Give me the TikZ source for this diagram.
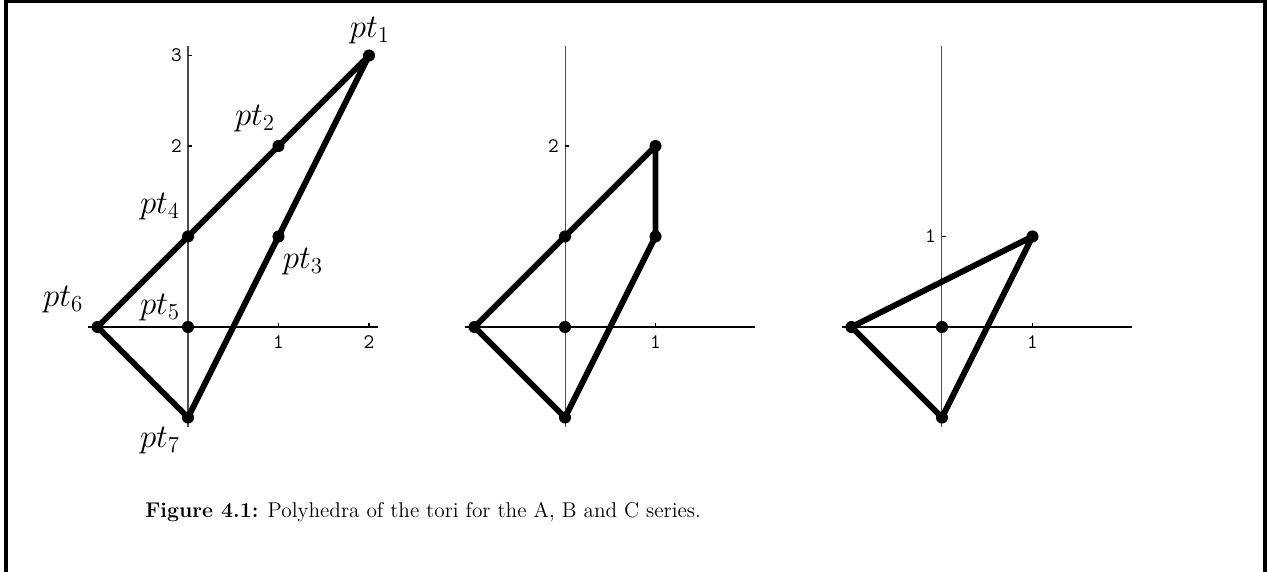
\documentclass[tikz,border=0pt]{standalone}
\usepackage{fontspec}
\begin{document}
\begin{tikzpicture}[x=2cm,y=2cm,
  axisx/.style={line width=0.65pt,black},
  axisy/.style={line width=0.65pt,black!70},
  edge/.style={line width=3.7pt,line join=round,line cap=round},
  dot/.style={circle,fill=black,inner sep=0pt,minimum size=7.6pt},
  ticklab/.style={font=\ttfamily\fontsize{13}{14}\selectfont,inner sep=0pt},
  ptlab/.style={font=\fontsize{20}{22}\selectfont,inner sep=0pt},
  frame/.style={line width=2.2pt}]
\useasboundingbox (-2.0773,-2.6961) rectangle (11.9227,3.6133);
\draw[frame] (-2.011,-2.75) -- (-2.011,3.597) -- (11.90,3.597) -- (11.90,-2.75);

% ---------- panel 1 ----------
\begin{scope}[shift={(0,0)}]
\draw[axisx] (-1.1,0) -- (2.1,0);
\draw[axisy] (0,-1.1) -- (0,3.1);
\foreach \t in {1,2} \draw[axisx] (\t,0) -- (\t,0.045);
\foreach \t in {2,3} \draw[axisx] (0,\t) -- (0.045,\t);
\node[ticklab] (ax1x1) at (1,-0.171) {1};
\node[ticklab] (ax1x2) at (2,-0.171) {2};
\node[ticklab] (ax1y2) at (-0.127,2) {2};
\node[ticklab] (ax1y3) at (-0.127,3) {3};
\node[dot] (p1) at (2,3) {};
\node[dot] (p2) at (1,2) {};
\node[dot] (p3) at (1,1) {};
\node[dot] (p4) at (0,1) {};
\node[dot] (p5) at (0,0) {};
\node[dot] (p6) at (-1,0) {};
\node[dot] (p7) at (0,-1) {};
\draw[edge] (p6.center) -- (p4.center) -- (p2.center) -- (p1.center) -- (p3.center) -- (p7.center) -- cycle;
\node[ptlab] (l1) at (2.01,3.28) {$pt_1$};
\node[ptlab] (l2) at (0.74,2.30) {$pt_2$};
\node[ptlab] (l3) at (1.27,0.72) {$pt_3$};
\node[ptlab] (l4) at (-0.31,1.33) {$pt_4$};
\node[ptlab] (l5) at (-0.31,0.21) {$pt_5$};
\node[ptlab] (l6) at (-1.38,0.30) {$pt_6$};
\node[ptlab] (l7) at (-0.31,-1.25) {$pt_7$};
\end{scope}

% ---------- panel 2 ----------
\begin{scope}[shift={(4.166,0)}]
\draw[axisx] (-1.1,0) -- (2.1,0);
\draw[axisy] (0,-1.1) -- (0,3.1);
\draw[axisx] (1,0) -- (1,0.045);
\draw[axisx] (0,2) -- (0.045,2);
\node[ticklab] (ax2x1) at (1,-0.171) {1};
\node[ticklab] (ax2y2) at (-0.127,2) {2};
\node[dot] (q1) at (1,2) {};
\node[dot] (q2) at (1,1) {};
\node[dot] (q3) at (0,1) {};
\node[dot] (q4) at (0,0) {};
\node[dot] (q5) at (-1,0) {};
\node[dot] (q6) at (0,-1) {};
\draw[edge] (q5.center) -- (q3.center) -- (q1.center) -- (q2.center) -- (q6.center) -- cycle;
\end{scope}

% ---------- panel 3 ----------
\begin{scope}[shift={(8.331,0)}]
\draw[axisx] (-1.1,0) -- (2.1,0);
\draw[axisy] (0,-1.1) -- (0,3.1);
\draw[axisx] (1,0) -- (1,0.045);
\draw[axisx] (0,1) -- (0.045,1);
\node[ticklab] (ax3x1) at (1,-0.171) {1};
\node[ticklab] (ax3y1) at (-0.127,1) {1};
\node[dot] (r1) at (1,1) {};
\node[dot] (r2) at (0,0) {};
\node[dot] (r3) at (-1,0) {};
\node[dot] (r4) at (0,-1) {};
\draw[edge] (r3.center) -- (r1.center) -- (r4.center) -- cycle;
\end{scope}

\node[anchor=base west,inner sep=0pt,font=\fontsize{13.4}{16}\selectfont] (cap) at (-0.475,-2.10)
  {\textbf{Figure 4.1:} Polyhedra of the tori for the A, B and C series.};
\end{tikzpicture}
\end{document}
